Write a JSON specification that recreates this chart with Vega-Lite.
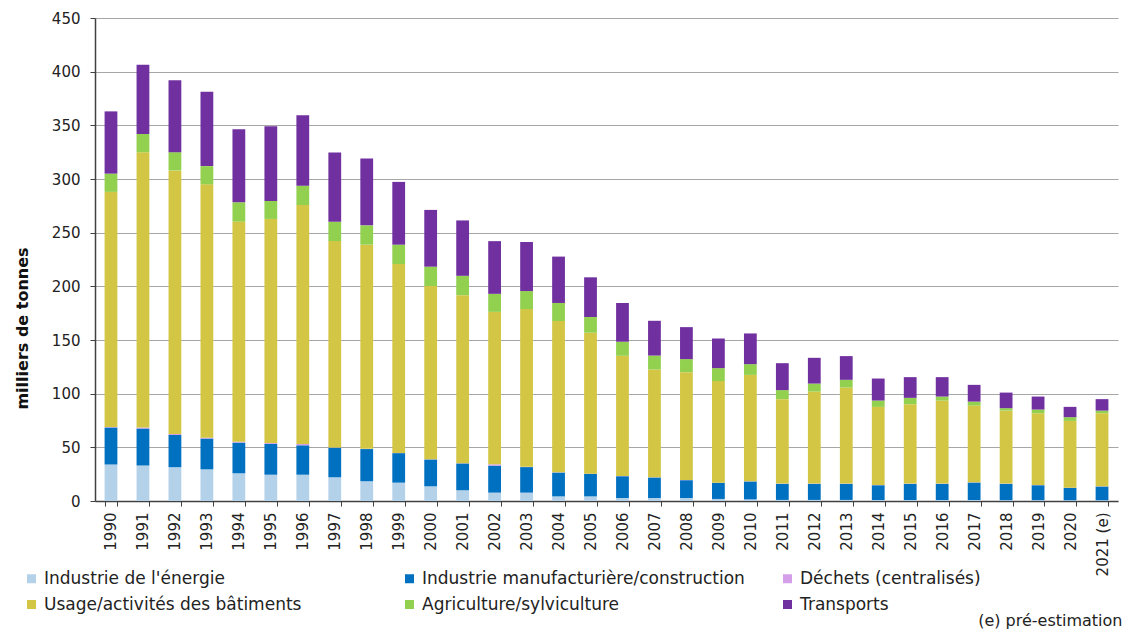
{
  "$schema": "https://vega.github.io/schema/vega-lite/v6.json",
  "autosize": {"type": "none"},
  "padding": {"left": 95, "top": 18, "right": 10, "bottom": 134},
  "width": 1023,
  "height": 483,
  "background": "white",
  "config": {"view": {"stroke": null}},
  "datasets": {
    "secteurs": [
      {"secteur": "energie", "rang": 1, "libelle": "Industrie de l'énergie"},
      {"secteur": "manuf", "rang": 2, "libelle": "Industrie manufacturière/construction"},
      {"secteur": "dechets", "rang": 3, "libelle": "Déchets (centralisés)"},
      {"secteur": "usage", "rang": 4, "libelle": "Usage/activités des bâtiments"},
      {"secteur": "agri", "rang": 5, "libelle": "Agriculture/sylviculture"},
      {"secteur": "transports", "rang": 6, "libelle": "Transports"}
    ]
  },
  "data": {"values": [
    {"annee": "1990", "energie": 34, "manuf": 34.5, "dechets": 0.5, "usage": 219, "agri": 17, "transports": 58},
    {"annee": "1991", "energie": 33, "manuf": 34.5, "dechets": 1, "usage": 256.5, "agri": 17, "transports": 64.5},
    {"annee": "1992", "energie": 31.5, "manuf": 30, "dechets": 1, "usage": 245.5, "agri": 17, "transports": 67},
    {"annee": "1993", "energie": 29.5, "manuf": 28.7, "dechets": 0.8, "usage": 236, "agri": 17, "transports": 69.2},
    {"annee": "1994", "energie": 25.8, "manuf": 28.6, "dechets": 0.9, "usage": 205, "agri": 18, "transports": 68},
    {"annee": "1995", "energie": 24.5, "manuf": 28.7, "dechets": 0.9, "usage": 208.7, "agri": 16.8, "transports": 69.6},
    {"annee": "1996", "energie": 24.5, "manuf": 27.4, "dechets": 1.3, "usage": 222.6, "agri": 18, "transports": 65.6},
    {"annee": "1997", "energie": 22.1, "manuf": 27.5, "dechets": 0.2, "usage": 192.4, "agri": 18, "transports": 64.6},
    {"annee": "1998", "energie": 18.4, "manuf": 30, "dechets": 0.2, "usage": 190.2, "agri": 18, "transports": 62.2},
    {"annee": "1999", "energie": 17.1, "manuf": 27.5, "dechets": 0.2, "usage": 176, "agri": 18, "transports": 58.5},
    {"annee": "2000", "energie": 13.7, "manuf": 25, "dechets": 0.2, "usage": 161.4, "agri": 18, "transports": 52.9},
    {"annee": "2001", "energie": 10, "manuf": 25, "dechets": 0.2, "usage": 156.6, "agri": 18, "transports": 51.6},
    {"annee": "2002", "energie": 7.8, "manuf": 25.2, "dechets": 1.2, "usage": 142, "agri": 16.8, "transports": 49.1},
    {"annee": "2003", "energie": 7.8, "manuf": 23.8, "dechets": 0.2, "usage": 147, "agri": 16.8, "transports": 45.7},
    {"annee": "2004", "energie": 4.3, "manuf": 22.2, "dechets": 0.2, "usage": 141, "agri": 16.8, "transports": 43.2},
    {"annee": "2005", "energie": 4.3, "manuf": 21, "dechets": 0.2, "usage": 131.3, "agri": 14.6, "transports": 37},
    {"annee": "2006", "energie": 2.8, "manuf": 20.3, "dechets": 0.2, "usage": 112, "agri": 13.1, "transports": 36.1},
    {"annee": "2007", "energie": 2.8, "manuf": 19.1, "dechets": 0.2, "usage": 100.4, "agri": 13, "transports": 32.4},
    {"annee": "2008", "energie": 2.8, "manuf": 16.6, "dechets": 0.2, "usage": 100.4, "agri": 12.2, "transports": 29.8},
    {"annee": "2009", "energie": 1.9, "manuf": 15, "dechets": 0.2, "usage": 94.6, "agri": 12.1, "transports": 27.6},
    {"annee": "2010", "energie": 1.5, "manuf": 16.7, "dechets": 0.2, "usage": 99.1, "agri": 10, "transports": 28.6},
    {"annee": "2011", "energie": 1, "manuf": 15, "dechets": 0.2, "usage": 78.7, "agri": 8.4, "transports": 25.1},
    {"annee": "2012", "energie": 1, "manuf": 15, "dechets": 0.2, "usage": 85.8, "agri": 7.4, "transports": 24},
    {"annee": "2013", "energie": 1, "manuf": 15, "dechets": 0.2, "usage": 89.5, "agri": 7.2, "transports": 22.1},
    {"annee": "2014", "energie": 0.9, "manuf": 13.8, "dechets": 0.2, "usage": 72.8, "agri": 5.9, "transports": 20.5},
    {"annee": "2015", "energie": 0.9, "manuf": 15.1, "dechets": 0.2, "usage": 74, "agri": 5.9, "transports": 19.3},
    {"annee": "2016", "energie": 0.9, "manuf": 15.1, "dechets": 0.2, "usage": 77.4, "agri": 3.7, "transports": 18.1},
    {"annee": "2017", "energie": 0.9, "manuf": 16.3, "dechets": 0.2, "usage": 71.5, "agri": 3.7, "transports": 15.6},
    {"annee": "2018", "energie": 0.8, "manuf": 15.2, "dechets": 0.2, "usage": 68, "agri": 2.3, "transports": 14.5},
    {"annee": "2019", "energie": 0.8, "manuf": 13.9, "dechets": 0.2, "usage": 66.9, "agri": 3.4, "transports": 12.1},
    {"annee": "2020", "energie": 0.7, "manuf": 11.5, "dechets": 0.2, "usage": 62.2, "agri": 3.5, "transports": 9.6},
    {"annee": "2021 (e)", "energie": 0.7, "manuf": 12.8, "dechets": 0.2, "usage": 68.1, "agri": 2.4, "transports": 10.7}
  ]},
  "transform": [
    {"fold": ["energie", "manuf", "dechets", "usage", "agri", "transports"], "as": ["secteur", "valeur"]},
    {"lookup": "secteur", "from": {"data": {"name": "secteurs"}, "key": "secteur", "fields": ["rang", "libelle"]}}
  ],
  "mark": {"type": "bar"},
  "encoding": {
    "x": {
      "field": "annee", "type": "nominal", "sort": null,
      "scale": {"paddingInner": 0.6, "paddingOuter": 0.3},
      "axis": {
        "title": "(e) pré-estimation",
        "titleAnchor": "end", "titleAlign": "right", "titleBaseline": "middle",
        "titleX": 1027, "titleY": 119,
        "titleFont": "DejaVu Sans", "titleFontSize": 16, "titleFontWeight": "normal", "titleColor": "#222",
        "labelAngle": -90, "labelFont": "DejaVu Sans", "labelFontSize": 15, "labelColor": "#222",
        "labelPadding": 6,
        "tickBand": "extent", "tickSize": 5, "tickColor": "#404040",
        "domainColor": "#404040", "domainWidth": 1.5
      }
    },
    "y": {
      "field": "valeur", "type": "quantitative", "stack": "zero",
      "scale": {"domain": [0, 450], "nice": false},
      "axis": {
        "values": [0, 50, 100, 150, 200, 250, 300, 350, 400, 450],
        "title": "milliers de tonnes",
        "titleFont": "DejaVu Sans", "titleFontSize": 16, "titleFontWeight": "bold", "titleColor": "#111",
        "titleAngle": -90, "titleX": -73, "titleY": 310, "titleAlign": "center", "titleBaseline": "middle",
        "labelFont": "DejaVu Sans", "labelFontSize": 15, "labelColor": "#222", "labelPadding": 10,
        "tickSize": 5, "tickColor": "#404040",
        "domainColor": "#404040", "domainWidth": 1.5,
        "grid": true, "gridColor": "#a6a6a6", "gridWidth": 1.2
      }
    },
    "color": {
      "field": "libelle", "type": "nominal",
      "scale": {
        "domain": ["Industrie de l'énergie", "Industrie manufacturière/construction", "Déchets (centralisés)", "Usage/activités des bâtiments", "Agriculture/sylviculture", "Transports"],
        "range": ["#b4d1ea", "#0070c0", "#d49ee8", "#d3c645", "#92d050", "#7030a0"]
      },
      "legend": {
        "title": null, "orient": "none", "legendX": -72, "legendY": 552,
        "direction": "horizontal", "columns": 3, "gridAlign": "all", "columnPadding": 34, "rowPadding": 8,
        "symbolType": "square", "symbolSize": 81, "symbolStrokeWidth": 0,
        "labelFont": "DejaVu Sans", "labelFontSize": 17, "labelColor": "#222", "labelOffset": 4, "labelLimit": 400
      }
    },
    "order": {"field": "rang", "type": "quantitative", "sort": "ascending"}
  }
}
